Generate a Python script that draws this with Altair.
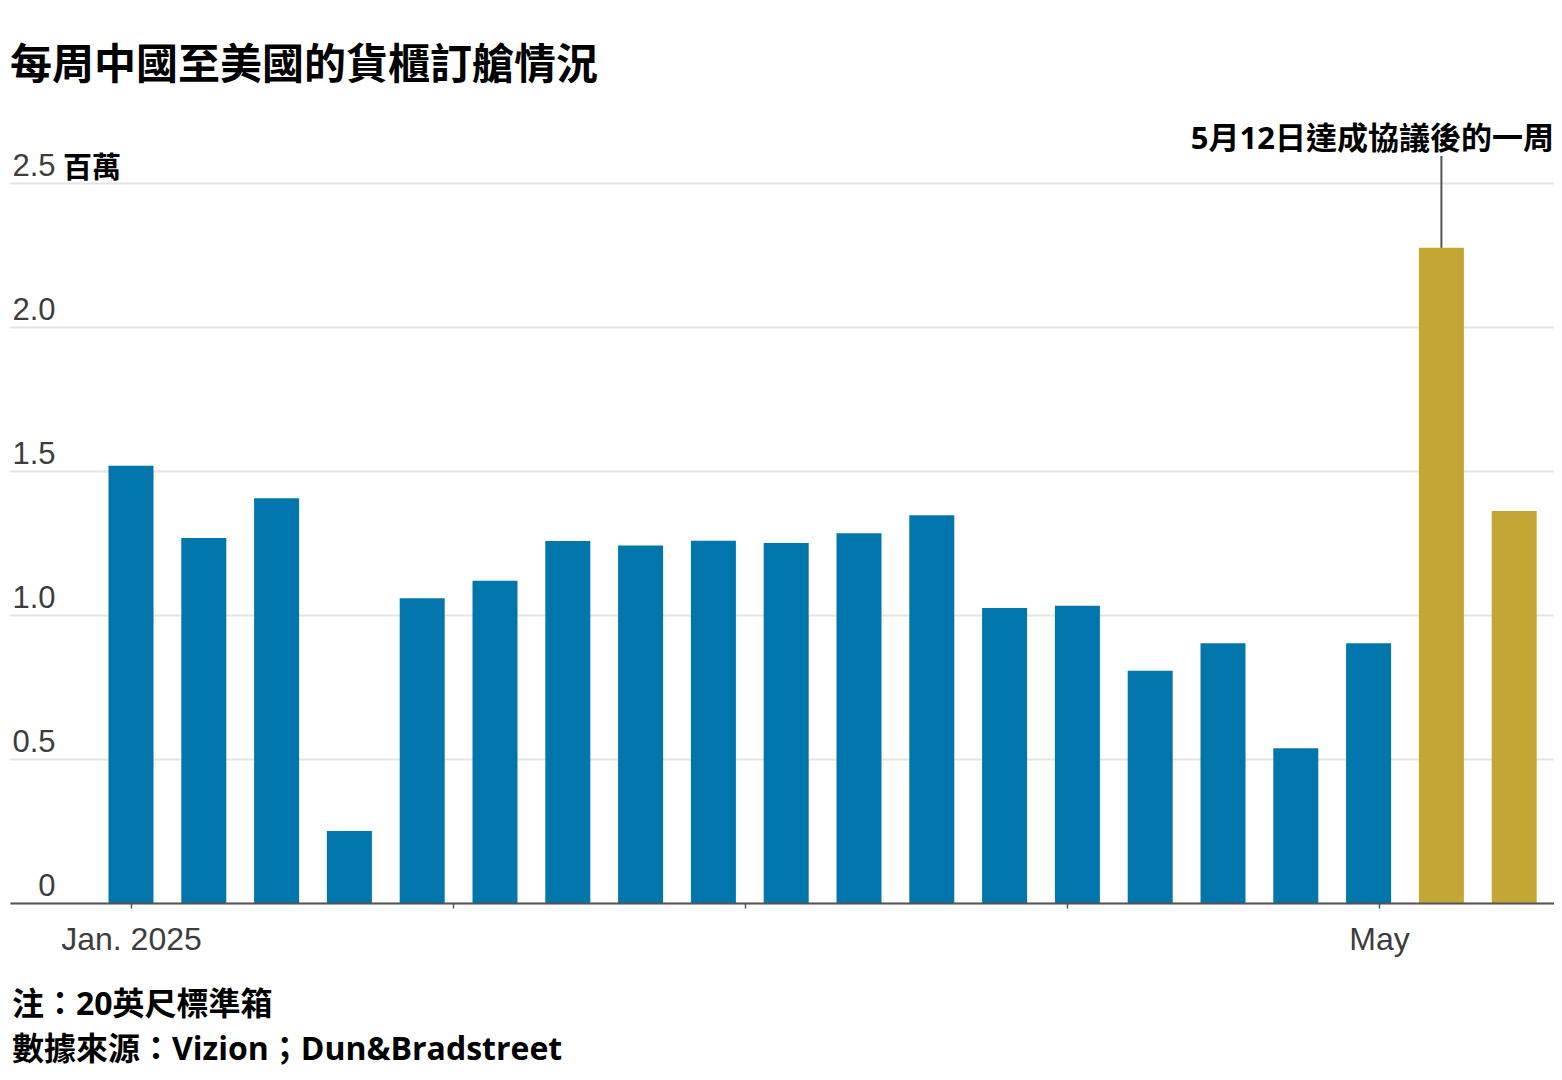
import altair as alt
import pandas as pd

# ---- data ----
weeks = ["2025-01-01", "2025-01-08", "2025-01-15", "2025-01-22", "2025-01-29",
         "2025-02-05", "2025-02-12", "2025-02-19", "2025-02-26",
         "2025-03-05", "2025-03-12", "2025-03-19", "2025-03-26",
         "2025-04-02", "2025-04-09", "2025-04-16", "2025-04-23", "2025-04-30",
         "2025-05-07", "2025-05-14"]
bookings = [1.518, 1.267, 1.405, 0.250, 1.058, 1.119, 1.257, 1.241, 1.258, 1.250,
            1.284, 1.346, 1.024, 1.032, 0.806, 0.902, 0.537, 0.902, 2.275, 1.361]
periods = ["before"] * 18 + ["after"] * 2
month_ticks = ["2025-01-01", "2025-02-01", "2025-03-01", "2025-04-01", "2025-05-01"]
y_ticks = [0, 0.5, 1.0, 1.5, 2.0, 2.5]

title_text = "每周中國至美國的貨櫃訂艙情況"
unit_text = "百萬"
annot_text = "5月12日達成協議後的一周"
footer_lines = ["注：20英尺標準箱", "數據來源：Vizion；Dun&Bradstreet"]

# ---- layout constants ----
W, H = 1544, 720
PX_PER_DAY = 10.4
JAN1_PX = 121.0  # plot-relative position of Jan 1


def ms(d):
    return int(pd.Timestamp(d, tz="UTC").timestamp() * 1000)


DAY_MS = 86400000
jan1 = ms("2025-01-01")
dom_start = jan1 - int(JAN1_PX / PX_PER_DAY * DAY_MS)
dom_end = jan1 + int((W - JAN1_PX) / PX_PER_DAY * DAY_MS)
tick_vals = [ms(d) for d in month_ticks]

df = pd.DataFrame({"week": weeks, "bookings": bookings, "period": periods})
annot_df = pd.DataFrame({"week": [weeks[18]], "bookings": [bookings[18]], "t": [annot_text]})
unit_df = pd.DataFrame({"v": [y_ticks[-1]], "t": [unit_text]})
footer_df = pd.DataFrame({"t": ["\n".join(footer_lines)]})
title_df = pd.DataFrame({"t": [title_text]})

LABEL_FONT = "Liberation Sans"
CJK = "Open Sans, Noto Sans CJK TC"

x_scale = alt.Scale(type="utc", domain=[dom_start, dom_end], padding=0)
x_enc = alt.X(
    "week:T",
    scale=x_scale,
    axis=alt.Axis(
        values=tick_vals,
        labelExpr="utcmonth(datum.value) == 0 ? 'Jan. 2025' : (utcmonth(datum.value) == 4 ? 'May' : '')",
        tickSize=5, tickColor="#555555", tickWidth=1.5,
        domainColor="#555555", domainWidth=2,
        labelFont=LABEL_FONT, labelFontSize=32, labelColor="#3d3d3d",
        labelPadding=16, labelFlush=False, labelOverlap=False,
        grid=False, title=None, zindex=1,
    ),
)
y_scale = alt.Scale(domain=[0, 2.5], nice=False, zero=True)
y_enc = alt.Y(
    "bookings:Q",
    scale=y_scale,
    axis=alt.Axis(
        values=y_ticks,
        labelExpr="datum.value == 0 ? '0' : format(datum.value, '.1f')",
        domain=False, ticks=False, tickSize=0,
        labelAlign="right", labelPadding=-45, labelBaseline="alphabetic", labelOffset=-8,
        labelFont=LABEL_FONT, labelFontSize=31, labelColor="#3d3d3d",
        gridColor="#e4e4e4", gridWidth=2, title=None, zindex=0,
    ),
)

bars = alt.Chart(df).mark_bar(size=45).encode(
    x=x_enc,
    y=y_enc,
    color=alt.Color("period:N",
                    scale=alt.Scale(domain=["before", "after"], range=["#0076ad", "#c4a634"]),
                    legend=None),
)

rule = alt.Chart(annot_df).mark_rule(color="#555555", strokeWidth=2).encode(
    x=alt.X("week:T", scale=x_scale),
    y="bookings:Q",
    y2=alt.value(-27),
)

annot = alt.Chart(annot_df).mark_text(
    align="right", baseline="alphabetic", font=CJK, fontSize=31,
    fontWeight="bold", color="#000000",
).encode(x=alt.value(W), y=alt.value(-34), text="t:N")

unit = alt.Chart(unit_df).mark_text(
    align="left", baseline="alphabetic", dy=-5, font=CJK, fontSize=29,
    fontWeight="bold", color="#000000",
).encode(x=alt.value(53), y=alt.Y("v:Q", scale=y_scale), text="t:N")

footer = alt.Chart(footer_df).mark_text(
    align="left", baseline="alphabetic", font=CJK, fontSize=32,
    fontWeight="bold", color="#000000", lineBreak="\n", lineHeight=45,
).encode(x=alt.value(2), y=alt.value(832), text="t:N")

title = alt.Chart(title_df).mark_text(
    align="left", baseline="alphabetic", font="Noto Sans CJK TC", fontSize=42,
    fontWeight="bold", color="#000000",
).encode(x=alt.value(0), y=alt.value(-104), text="t:N")

chart = alt.layer(bars, rule, annot, unit, footer, title).properties(
    width=W,
    height=H,
    padding={"left": 2, "top": 175, "right": 0, "bottom": 168},
    autosize=alt.AutoSizeParams(type="none"),
    background="#ffffff",
).configure_view(stroke=None)

chart.save("out.html", embed_options={"renderer": "svg", "actions": False})
